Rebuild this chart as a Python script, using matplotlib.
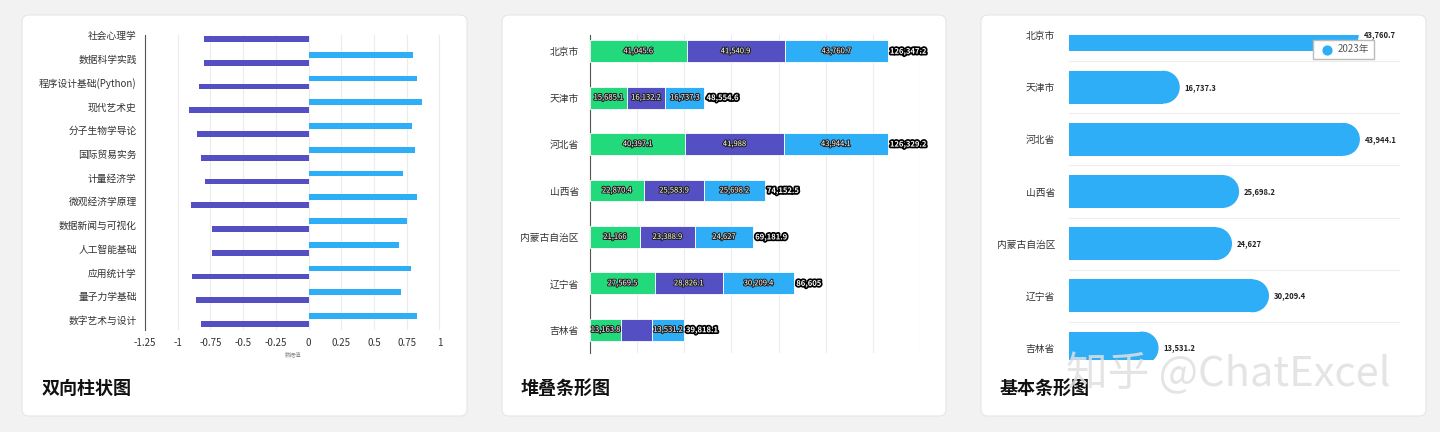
import matplotlib
matplotlib.use("Agg")
import matplotlib.pyplot as plt
import matplotlib.patheffects as pe
from matplotlib.patches import FancyBboxPatch, Ellipse
import numpy as np

plt.rcParams['font.family'] = ['Noto Sans CJK SC', 'DejaVu Sans']

# ---------- data ----------
courses = ["数字艺术与设计", "量子力学基础", "应用统计学", "人工智能基础", "数据新闻与可视化",
           "微观经济学原理", "计量经济学", "国际贸易实务", "分子生物学导论", "现代艺术史",
           "程序设计基础(Python)", "数据科学实践", "社会心理学"]
pos_vals = [0.83, 0.71, 0.78, 0.69, 0.75, 0.83, 0.72, 0.81, 0.79, 0.87, 0.83, 0.80, 0.78]
neg_vals = [-0.82, -0.86, -0.89, -0.74, -0.74, -0.90, -0.79, -0.82, -0.85, -0.91, -0.84, -0.80, -0.80]
x1_ticks = [-1.25, -1, -0.75, -0.5, -0.25, 0, 0.25, 0.5, 0.75, 1]
x1_ticklabels = ["-1.25", "-1", "-0.75", "-0.5", "-0.25", "0", "0.25", "0.5", "0.75", "1"]

provinces = ["北京市", "天津市", "河北省", "山西省", "内蒙古自治区", "辽宁省", "吉林省"]
y2021 = [41045.6, 15685.1, 40397.1, 22870.4, 21166, 27569.5, 13163.8]
y2022 = [41540.9, 16132.2, 41988, 25583.9, 23388.9, 28826.1, 13123.1]
y2023 = [43760.7, 16737.3, 43944.1, 25698.2, 24627, 30209.4, 13531.2]
legend3 = "2023年"

titles = ["双向柱状图", "堆叠条形图", "基本条形图"]

GREEN, PURPLE, BLUE = "#22d97b", "#5450c4", "#2eaef7"

W, H = 14.4, 4.32
fig = plt.figure(figsize=(W, H), dpi=100)
fig.patch.set_facecolor("#f2f2f2")

def px(l, t, r, b):
    return [l / 1440, 1 - b / 432, (r - l) / 1440, (b - t) / 432]

# cards
for (l, r) in [(22, 467), (502, 946), (981, 1426)]:
    fig.patches.append(FancyBboxPatch((l / 100, 16 / 100), (r - l) / 100, 401 / 100,
                                      boxstyle="round,pad=0,rounding_size=0.07",
                                      transform=fig.dpi_scale_trans, facecolor="white",
                                      edgecolor="#e6e6e6", lw=0.8, zorder=-10))

def fmt(v):
    s = f"{v:,.1f}"
    return s[:-2] if s.endswith(".0") else s

stroke = [pe.withStroke(linewidth=2, foreground="black")]

def newax(rect):
    ax = fig.add_axes(rect)
    ax.set_zorder(5)
    ax.patch.set_alpha(0)
    return ax

# ---------- panel 1 ----------
ax1 = newax(px(145, 35, 442, 330))
y = np.arange(len(courses))
ax1.barh(y + 0.17, pos_vals, height=0.24, color=BLUE, zorder=3)
ax1.barh(y - 0.17, neg_vals, height=0.24, color=PURPLE, zorder=3)
ax1.set_yticks(y)
ax1.set_yticklabels(courses, fontsize=7, color="#333333")
ax1.set_ylim(-0.42, 12.0)
ax1.set_xlim(-1.25, 1.02)
ax1.set_xticks(x1_ticks)
ax1.set_xticklabels(x1_ticklabels, fontsize=7, color="#333333")
ax1.grid(axis="x", color="#ececec", lw=0.8, zorder=0)
for s in ["top", "right", "bottom"]:
    ax1.spines[s].set_visible(False)
ax1.spines["left"].set_color("#555555")
ax1.tick_params(length=0, pad=6)
ax1.set_xlabel("数据值", fontsize=4, color="#888888", labelpad=2)

# ---------- panel 2 ----------
ax2 = newax(px(590, 35, 920, 353))
y2 = np.arange(len(provinces))
a = np.array(y2021); b = np.array(y2022); c = np.array(y2023)
ax2.barh(y2, a, height=0.47, color=GREEN, edgecolor="white", lw=0.6, zorder=3)
ax2.barh(y2, b, left=a, height=0.47, color=PURPLE, edgecolor="white", lw=0.6, zorder=3)
ax2.barh(y2, c, left=a + b, height=0.47, color=BLUE, edgecolor="white", lw=0.6, zorder=3)
for i in range(len(provinces)):
    for k, (left, v) in enumerate([(0, a[i]), (a[i], b[i]), (a[i] + b[i], c[i])]):
        if i == 6 and k == 1:
            continue
        ax2.text(left + v / 2, i, fmt(v), ha="center", va="center", fontsize=5.5,
                 color="white", path_effects=[pe.withStroke(linewidth=1.5, foreground="#222222")], zorder=4)
    tot = a[i] + b[i] + c[i]
    ax2.text(tot + 900, i, fmt(tot), ha="left", va="center", fontsize=5.5, fontweight="bold",
             color="white", path_effects=[pe.withStroke(linewidth=2.5, foreground="black")], zorder=4)
ax2.set_yticks(y2)
ax2.set_yticklabels(provinces, fontsize=7, color="#333333")
ax2.set_ylim(6.5, -0.35)
ax2.set_xlim(0, 140000)
ax2.set_xticks(np.arange(0, 140001, 20000))
ax2.set_xticklabels([])
ax2.grid(axis="x", color="#ececec", lw=0.8, zorder=0)
for s in ["top", "right", "bottom"]:
    ax2.spines[s].set_visible(False)
ax2.spines["left"].set_color("#555555")
ax2.tick_params(length=0, pad=8)

# ---------- panel 3 ----------
ax3 = newax(px(1069, 35, 1400, 360))
ax3.set_xlim(0, 50000)
ax3.set_ylim(6.23, 0)
bh = 0.63
ax_w_px = (1400 - 1069)
ax_h_px = (360 - 35)
r_px = bh / 6.23 * ax_h_px / 2
r_data = r_px * 50000 / ax_w_px
for i, v in enumerate(y2023):
    ax3.barh(i, v - r_data, height=bh, color=BLUE, zorder=3, lw=0)
    ax3.add_patch(Ellipse((v - r_data, i), 2 * r_data, bh, color=BLUE, zorder=3, lw=0))
    ax3.text(v + 700, i, fmt(v), ha="left", va="center", fontsize=5.5,
             color="#222222", fontweight="bold", zorder=4)
ax3.set_yticks(range(len(provinces)))
ax3.set_yticklabels(provinces, fontsize=7, color="#333333")
ax3.set_yticks(np.arange(0.5, 6.5, 1), minor=True)
ax3.grid(axis="y", which="minor", color="#eeeeee", lw=0.8, zorder=0)
ax3.set_xticks([])
for s in ax3.spines.values():
    s.set_visible(False)
ax3.tick_params(length=0, pad=10, which="both")
ax3.scatter([], [], color=BLUE, s=40, label=legend3)
leg = ax3.legend(loc="upper right", bbox_to_anchor=(0.935, 1.0), fontsize=7, frameon=True,
                 handletextpad=0.1, borderpad=0.45, fancybox=False, framealpha=1)
leg.get_frame().set_edgecolor("#bbbbbb")
leg.set_zorder(10)
for t in leg.get_texts():
    t.set_color("#555555")

# titles
for x0, t in zip([42, 521, 1000], titles):
    fig.text(x0 / 1440, 1 - 388 / 432, t, fontsize=13, fontweight="bold",
             va="center", ha="left", color="#111111")

fig.text(1066 / 1440, 1 - 374 / 432, "知乎 @ChatExcel", fontsize=30, color="#e0e0e0",
         alpha=0.85, va="center", ha="left", zorder=20)

fig.savefig("out.png", dpi=100, facecolor=fig.get_facecolor())
